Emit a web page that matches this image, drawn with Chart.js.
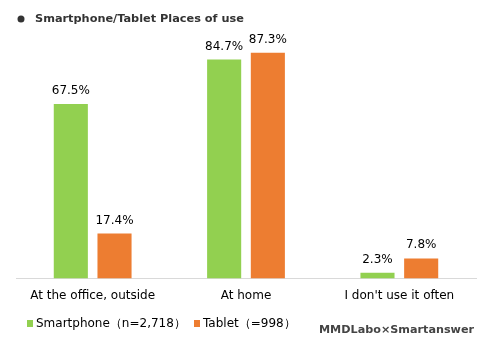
<!DOCTYPE html>
<html>
<head>
<meta charset="utf-8">
<script src="https://cdn.jsdelivr.net/npm/chart.js@4/dist/chart.umd.min.js"></script>
<style>
  html, body { margin: 0; padding: 0; background: #fff; }
  #wrap { width: 480px; height: 344px; position: relative; }
</style>
</head>
<body>
<div id="wrap"><canvas id="chart"></canvas></div>
<script>
const places = ['At the office, outside', 'At home', "I don't use it often"]
const smartphone = [67.5, 84.7, 2.3]
const tablet = [17.4, 87.3, 7.8]
const seriesNames = ['Smartphone（n=2,718）', 'Tablet（=998）']
const chartTitle = 'Smartphone/Tablet Places of use'
const sourceText = 'MMDLabo×Smartanswer'

const fontName = '"DejaVu Sans", Verdana, sans-serif'
const legendX = [27, 194]

// value labels above bars, title, legend and source drawn by hand
const extraText = {
    id: 'extraText',
    afterDatasetsDraw(chart) {
        const ctx = chart.ctx
        ctx.save()
        ctx.font = '12px ' + fontName
        ctx.fillStyle = '#000'
        ctx.textAlign = 'center'
        ctx.textBaseline = 'alphabetic'
        chart.data.datasets.forEach((ds, i) => {
            chart.getDatasetMeta(i).data.forEach((bar, j) => {
                ctx.fillText(ds.data[j].toFixed(1) + '%', bar.x, bar.y - 10)
            })
        })
        ctx.restore()
    },
    afterDraw(chart) {
        const ctx = chart.ctx
        ctx.save()
        // title
        ctx.fillStyle = '#333'
        ctx.beginPath()
        ctx.arc(21, 19, 3.5, 0, Math.PI * 2)
        ctx.fill()
        ctx.font = 'bold 11.3px ' + fontName
        ctx.textBaseline = 'middle'
        ctx.fillText(chartTitle, 35, 19)
        // legend
        ctx.font = '12px ' + fontName
        chart.data.datasets.forEach((ds, i) => {
            ctx.fillStyle = ds.backgroundColor
            ctx.fillRect(legendX[i], 320, 6, 7)
            ctx.fillStyle = '#000'
            ctx.fillText(ds.label, legendX[i] + 9, 323.5)
        })
        // source
        ctx.fillStyle = '#444'
        ctx.font = 'bold 11.2px ' + fontName
        ctx.textAlign = 'right'
        ctx.fillText(sourceText, 474, 330)
        ctx.restore()
    }
}

const data = {
    labels: places,
    datasets: [{
        label: seriesNames[0],
        data: smartphone,
        backgroundColor: '#92D050',
        barPercentage: 0.78,
        categoryPercentage: 0.57
    }, {
        label: seriesNames[1],
        data: tablet,
        backgroundColor: '#ED7D31',
        barPercentage: 0.78,
        categoryPercentage: 0.57
    }]
}

const config = {
    type: 'bar',
    data: data,
    options: {
        responsive: true,
        maintainAspectRatio: false,
        animation: false,
        layout: { padding: { top: 20, left: 16, right: 4, bottom: 31 } },
        plugins: {
            legend: { display: false },
            tooltip: { enabled: false }
        },
        scales: {
            x: {
                grid: { display: false, drawTicks: false },
                border: { color: '#d9d9d9' },
                ticks: { color: '#000', font: { family: fontName, size: 12 }, padding: 10 }
            },
            y: {
                display: false,
                min: 0,
                max: 100
            }
        }
    },
    plugins: [extraText]
}

new Chart(document.getElementById('chart'), config)
</script>
</body>
</html>
